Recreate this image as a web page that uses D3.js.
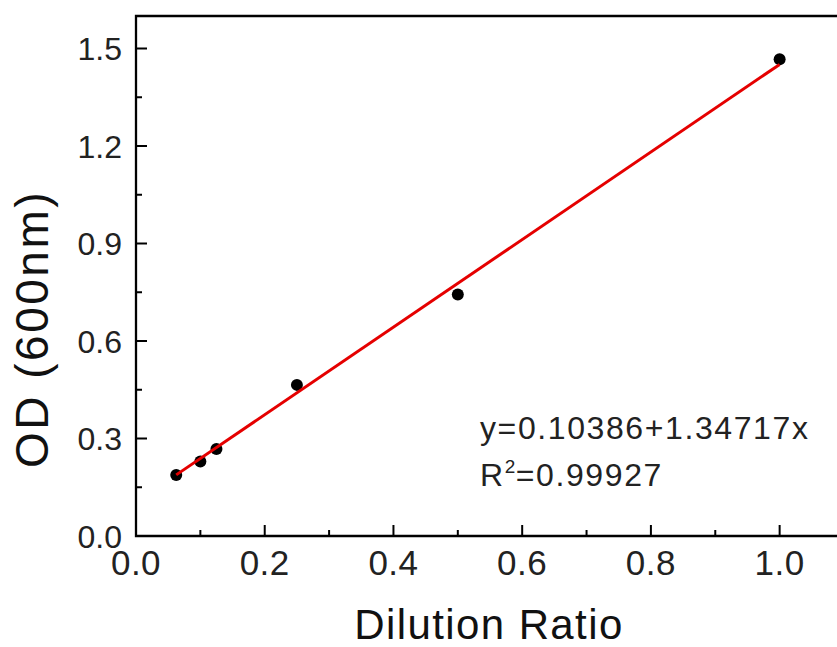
<!DOCTYPE html>
<html>
<head>
<meta charset="utf-8">
<script src="https://cdn.jsdelivr.net/npm/d3@7"></script>
<style>
  body { margin: 0; background: #fff; }
  svg { display: block; font-family: "Liberation Sans", Arial, sans-serif; }
</style>
</head>
<body>
<div id="chart"></div>
<script>
// measured points
var dilution = [0.0625, 0.1, 0.125, 0.25, 0.5, 1.0];
var od = [0.188, 0.229, 0.268, 0.465, 0.743, 1.467];

// linear fit as printed on the chart
var intercept = 0.10386;
var slope = 1.34717;
var fitText = "y=0.10386+1.34717x";
var r2Text = "=0.99927";

var xTicks = [0, 0.2, 0.4, 0.6, 0.8, 1.0];
var xMinor = [0.1, 0.3, 0.5, 0.7, 0.9];
var yTicks = [0, 0.3, 0.6, 0.9, 1.2, 1.5];
var yMinor = [0.15, 0.45, 0.75, 1.05, 1.35];

function drawChart() {
    var width = 837;
    var height = 647;
    var margin = {left: 136, top: 16, right: -7, bottom: 111};

    var svg = d3.select('#chart')
      .append('svg')
        .attr('width', width)
        .attr('height', height);

    var x = d3.scaleLinear()
        .domain([0, 1.1])
        .range([margin.left, width - margin.right]);

    var y = d3.scaleLinear()
        .domain([0, 1.6])
        .range([height - margin.bottom, margin.top]);

    var x0 = x(0), y0 = y(0);

    // ticks (inward)
    var tickG = svg.append('g')
        .attr('stroke', '#000')
        .attr('stroke-width', 2);

    tickG.selectAll('.xt')
      .data(xTicks.concat(xMinor))
      .enter()
      .append('line')
        .attr('x1', d => x(d))
        .attr('x2', d => x(d))
        .attr('y1', y0)
        .attr('y2', d => y0 - (xTicks.includes(d) ? 11 : 6));

    tickG.selectAll('.yt')
      .data(yTicks.concat(yMinor))
      .enter()
      .append('line')
        .attr('y1', d => y(d))
        .attr('y2', d => y(d))
        .attr('x1', x0)
        .attr('x2', d => x0 + (yTicks.includes(d) ? 11 : 6));

    // frame: left, bottom, top (right edge is off the page)
    svg.append('path')
        .attr('d', `M${width},${margin.top}H${x0}V${y0}H${width}`)
        .attr('fill', 'none')
        .attr('stroke', '#000')
        .attr('stroke-width', 2.3);

    // tick labels
    svg.append('g')
      .selectAll('text')
      .data(xTicks)
      .enter()
      .append('text')
        .attr('x', d => x(d))
        .attr('y', y0 + 39)
        .attr('text-anchor', 'middle')
        .attr('font-size', 35)
        .attr('letter-spacing', 0.5)
        .attr('fill', '#222')
        .text(d => d.toFixed(1));

    svg.append('g')
      .selectAll('text')
      .data(yTicks)
      .enter()
      .append('text')
        .attr('x', x0 - 14)
        .attr('y', d => y(d) + 11.5)
        .attr('text-anchor', 'end')
        .attr('font-size', 32)
        .attr('fill', '#222')
        .text(d => d.toFixed(1));

    // axis titles
    svg.append('text')
        .attr('x', 489)
        .attr('y', 639)
        .attr('text-anchor', 'middle')
        .attr('font-size', 42)
        .attr('letter-spacing', 1.4)
        .attr('fill', '#111')
        .text('Dilution Ratio');

    svg.append('text')
        .attr('transform', 'translate(48,329) rotate(-90)')
        .attr('text-anchor', 'middle')
        .attr('font-size', 46)
        .attr('letter-spacing', 2.5)
        .attr('fill', '#111')
        .text('OD (600nm)');

    // points
    var pts = dilution.map((d, i) => ({x: d, y: od[i]}));
    svg.append('g')
      .selectAll('circle')
      .data(pts)
      .enter()
      .append('circle')
        .attr('cx', d => x(d.x))
        .attr('cy', d => y(d.y))
        .attr('r', 6)
        .attr('fill', '#000');

    // fit line over the data range
    var xr = d3.extent(dilution);
    var line = d3.line()
        .x(d => x(d))
        .y(d => y(intercept + slope * d));
    svg.append('path')
        .datum(xr)
        .attr('d', line)
        .attr('fill', 'none')
        .attr('stroke', '#e50000')
        .attr('stroke-width', 3);

    // equation
    svg.append('text')
        .attr('x', 480)
        .attr('y', 439)
        .attr('font-size', 32)
        .attr('letter-spacing', 1.6)
        .attr('fill', '#222')
        .text(fitText);

    var r2 = svg.append('text')
        .attr('x', 480)
        .attr('y', 486)
        .attr('font-size', 32)
        .attr('letter-spacing', 1.6)
        .attr('fill', '#222');
    r2.append('tspan').text('R');
    r2.append('tspan')
        .attr('dy', -13)
        .attr('font-size', 19)
        .attr('letter-spacing', 0.5)
        .text('2');
    r2.append('tspan')
        .attr('dy', 13)
        .text(r2Text);
}

drawChart();
</script>
</body>
</html>
